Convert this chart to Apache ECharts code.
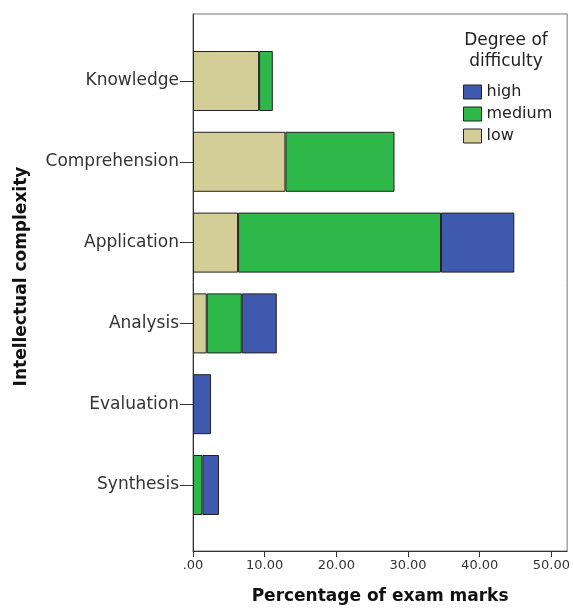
<!DOCTYPE html>
<html>
<head>
<meta charset="utf-8">
<script src="https://cdn.jsdelivr.net/npm/echarts@6/dist/echarts.min.js"></script>
<style>
html,body{margin:0;padding:0;background:#fff;}
#chart{width:573px;height:610px;}
</style>
</head>
<body>
<div id="chart"></div>
<script>
const categories = ['Knowledge', 'Comprehension', 'Application', 'Analysis', 'Evaluation', 'Synthesis'];
const lowValues = [9.15, 12.8, 6.24, 1.9, null, null];
const mediumValues = [1.9, 15.1, 28.1, 4.85, null, 1.3];
const highValues = [null, null, 10.15, 4.85, 2.5, 2.3];
const xTicks = [0, 10, 20, 30, 40, 50];
const xMax = 52.2;
const legendOrder = ['high', 'medium', 'low'];

const FONT = 'DejaVu Sans';
const chart = echarts.init(document.getElementById('chart'), null, {renderer: 'canvas'});

const barStyle = (color) => ({color: color, borderColor: '#222', borderWidth: 1});

const option = {
  animation: false,
  backgroundColor: '#fff',
  title: {
    text: 'Degree of\ndifficulty',
    left: 506, top: 30, padding: 0,
    textAlign: 'center',
    textStyle: {fontFamily: FONT, fontSize: 17, fontWeight: 'normal', color: '#222', lineHeight: 21}
  },
  legend: {
    data: legendOrder,
    orient: 'vertical',
    left: 463, top: 84,
    padding: 0,
    itemWidth: 18, itemHeight: 14, itemGap: 6,
    icon: 'rect',
    itemStyle: {borderColor: '#222', borderWidth: 1},
    textStyle: {fontFamily: FONT, fontSize: 16, color: '#222'}
  },
  grid: [
    {left: 193, right: 3, top: 14, bottom: 58, show: true, borderColor: '#777', borderWidth: 1, backgroundColor: 'transparent', containLabel: false},
    {left: 193, right: 3, top: 40.6, bottom: 84.6, containLabel: false}
  ],
  xAxis: [
    {
      gridIndex: 0, type: 'value', min: 0, max: xMax,
      axisLine: {show: true, lineStyle: {color: '#333', width: 1}},
      axisTick: {show: true, length: 6, lineStyle: {color: '#333'}, customValues: xTicks},
      axisLabel: {customValues: xTicks, margin: 8, fontFamily: FONT, fontSize: 13, color: '#333',
        formatter: (v) => v === 0 ? '.00' : v.toFixed(2)},
      splitLine: {show: false},
      name: 'Percentage of exam marks', nameLocation: 'middle', nameGap: 37,
      nameTextStyle: {fontFamily: FONT, fontSize: 17, fontWeight: 'bold', color: '#111'}
    },
    {
      gridIndex: 1, type: 'value', min: 0, max: xMax, show: false, splitLine: {show: false}
    }
  ],
  yAxis: [
    {
      gridIndex: 0, type: 'value', min: 0, max: 1,
      axisLine: {show: true, lineStyle: {color: '#333', width: 1}},
      axisTick: {show: false}, axisLabel: {show: false}, splitLine: {show: false},
      name: 'Intellectual complexity', nameLocation: 'middle', nameGap: 163,
      nameTextStyle: {fontFamily: FONT, fontSize: 17, fontWeight: 'bold', color: '#111', padding: [0, 0, 0, 12]}
    },
    {
      gridIndex: 1, type: 'category', data: categories, inverse: true,
      axisLine: {show: false},
      axisTick: {show: true, alignWithLabel: true, length: 13, lineStyle: {color: '#333'}},
      axisLabel: {margin: 14, fontFamily: FONT, fontSize: 17, color: '#333'},
      splitLine: {show: false}
    }
  ],
  series: [
    {name: 'low', type: 'bar', xAxisIndex: 1, yAxisIndex: 1, stack: 'total', barWidth: 60, data: lowValues, itemStyle: barStyle('#d3ce97')},
    {name: 'medium', type: 'bar', xAxisIndex: 1, yAxisIndex: 1, stack: 'total', barWidth: 60, data: mediumValues, itemStyle: barStyle('#2fb84a')},
    {name: 'high', type: 'bar', xAxisIndex: 1, yAxisIndex: 1, stack: 'total', barWidth: 60, data: highValues, itemStyle: barStyle('#3e59ad')}
  ]
};
chart.setOption(option);
</script>
</body>
</html>
